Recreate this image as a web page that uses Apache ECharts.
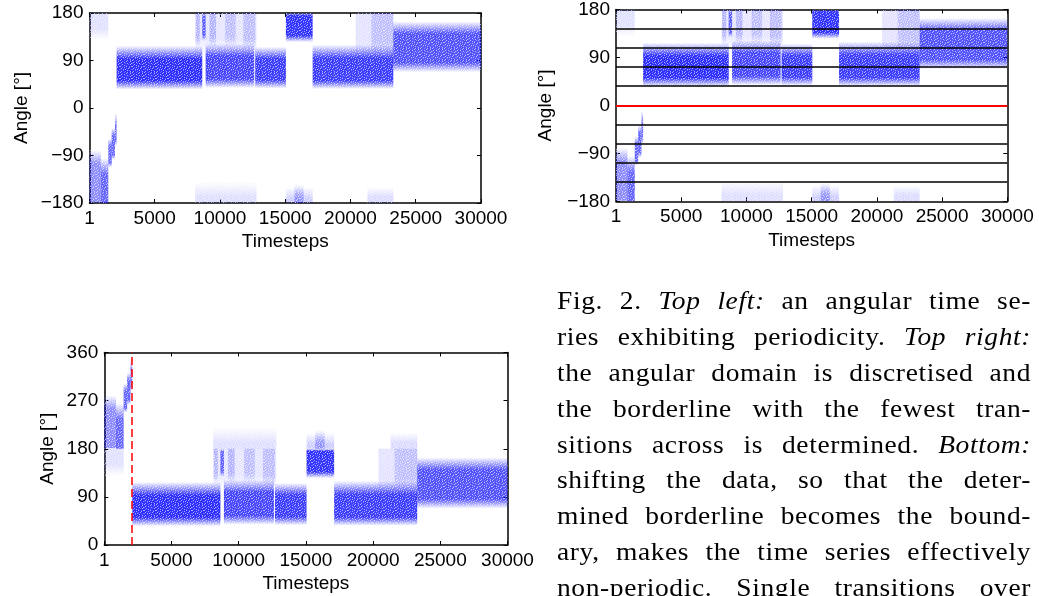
<!DOCTYPE html>
<html>
<head>
<meta charset="utf-8">
<script src="https://cdn.jsdelivr.net/npm/echarts@6/dist/echarts.min.js"></script>
<style>
html,body{margin:0;padding:0;width:1039px;height:596px;overflow:hidden;background:#fff}
#chart{position:absolute;left:0;top:0;width:1039px;height:596px}
#cap{position:absolute;left:557px;top:281.5px;width:474px;font-family:"Liberation Serif","DejaVu Serif",serif;font-size:27.5px;letter-spacing:0.6px;color:#000;transform:scaleY(0.95);transform-origin:0 0}
#cap div{height:37.9px;line-height:37.9px;text-align:justify;text-align-last:justify;white-space:nowrap}
</style>
</head>
<body>
<div id="chart"></div>
<div id="cap">
<div>Fig. 2. <i>Top left:</i> an angular time se-</div>
<div>ries exhibiting periodicity. <i>Top right:</i></div>
<div>the angular domain is discretised and</div>
<div>the borderline with the fewest tran-</div>
<div>sitions across is determined. <i>Bottom:</i></div>
<div>shifting the data, so that the deter-</div>
<div>mined borderline becomes the bound-</div>
<div>ary, makes the time series effectively</div>
<div>non-periodic. Single transitions over</div>
</div>
<script>
// ---------------- data ----------------
const timeMin = 1;
const timeMax = 30000;
const xTicks = [1, 5000, 10000, 15000, 20000, 25000, 30000];
const yTicksWrapped = [-180, -90, 0, 90, 180];
const yTicksShifted = [0, 90, 180, 270, 360];
const binBorders = [-144, -108, -72, -36, 36, 72, 108, 144];
const chosenBorder = 0;
const shiftBoundaryTime = 2080;

// angle bands of the scatter (wrapped domain, degrees)
// [tStart, tEnd, outerLow, coreLow, coreHigh, outerHigh, density]
const denseBands = [
  [1, 870, -180, -178, -105, -80, 0.45],
  [870, 1440, -180, -180, -125, -95, 0.6],
  [1440, 1700, -112, -104, -72, -58, 0.6],
  [1700, 1950, -98, -88, -52, -38, 0.6],
  [1950, 2080, -72, -62, -32, -10, 0.55],
  [2080, 8640, 35, 52, 93, 118, 0.82],
  [8640, 8900, 128, 138, 174, 180, 0.6],
  [8900, 12620, 38, 55, 99, 122, 0.72],
  [12700, 15050, 37, 53, 94, 116, 0.76],
  [15050, 17100, 125, 137, 176, 180, 0.8],
  [17100, 23280, 36, 52, 95, 120, 0.76],
  [23280, 30000, 68, 86, 141, 164, 0.68]
];
const sparseBands = [
  [1, 1440, 130, 150, 180, 180, 0.12],
  [8100, 12800, 105, 130, 180, 180, 0.1],
  [8150, 8450, 115, 135, 180, 180, 0.22],
  [9200, 9700, 115, 135, 180, 180, 0.22],
  [10400, 11200, 115, 135, 180, 180, 0.17],
  [11800, 12700, 110, 130, 180, 180, 0.18],
  [8100, 12800, -180, -180, -168, -140, 0.13],
  [15050, 17100, -180, -180, -172, -150, 0.2],
  [15700, 16400, -180, -180, -165, -145, 0.28],
  [20400, 23280, 95, 120, 180, 180, 0.11],
  [21600, 23280, 100, 125, 180, 180, 0.16],
  [21300, 23280, -180, -180, -168, -150, 0.14]
];

// ---------------- chart ----------------
const wrappedData = sparseBands.concat(denseBands);
const shiftedData = wrappedData.map(b => b[5] <= chosenBorder
  ? [b[0], b[1], b[2] + 360, b[3] + 360, b[4] + 360, b[5] + 360, b[6]]
  : b.slice());

const FONT = '"Liberation Sans", Arial, sans-serif';
const minus = v => String(v).replace('-', '\u2212');

// speckle texture tile (style only): x = strong white dot, o = faint white dot
const speckRows = [
  "x...o..x..o.",
  "..o...x...x.",
  ".x..x....o..",
  "o....o.x...x",
  "..x.....o.x.",
  ".o..x.o.....",
  "x.....x..o.x",
  "..o.x....x..",
  ".x....o.x...",
  "o..x.x.....o",
  "...o...x.o..",
  ".x...o....x."
];
const speckTile = document.createElement('canvas');
speckTile.width = 12; speckTile.height = 12;
(function () {
  const g = speckTile.getContext('2d');
  speckRows.forEach((row, y) => {
    for (let x = 0; x < row.length; x++) {
      if (row[x] === 'x') { g.fillStyle = 'rgba(255,255,255,0.6)'; g.fillRect(x, y, 1, 1); }
      else if (row[x] === 'o') { g.fillStyle = 'rgba(255,255,255,0.3)'; g.fillRect(x, y, 1, 1); }
    }
  });
})();

function renderBand(params, api) {
  const t0 = api.value(0), t1 = api.value(1);
  const lo = api.value(2), cl = api.value(3), ch = api.value(4), hi = api.value(5);
  const a = api.value(6);
  const p0 = api.coord([t0, hi]);
  const p1 = api.coord([t1, lo]);
  const span = hi - lo;
  const c = al => 'rgba(0,0,255,' + al + ')';
  const shape = { x: p0[0], y: p0[1], width: p1[0] - p0[0], height: p1[1] - p0[1] };
  return {
    type: 'group',
    children: [
      {
        type: 'rect', shape: shape,
        style: {
          fill: new echarts.graphic.LinearGradient(0, 0, 0, 1, [
            { offset: 0, color: c(hi === ch ? a : 0) },
            { offset: (hi - ch) / span, color: c(a) },
            { offset: (hi - cl) / span, color: c(a) },
            { offset: 1, color: c(lo === cl ? a : 0) }
          ])
        }
      },
      { type: 'rect', shape: shape, style: { fill: { image: speckTile, repeat: 'repeat' } } }
    ]
  };
}

const grids = [
  { left: 89.5, top: 13, width: 391.5, height: 190 },
  { left: 616, top: 6.7, width: 391.3, height: 194.6 },
  { left: 104.3, top: 352.5, width: 403.2, height: 192.5 }
];
const yRanges = [[-180, 180, yTicksWrapped], [-180, 180, yTicksWrapped], [0, 360, yTicksShifted]];
const yNameGaps = [58, 61, 47];
const xNameGaps = [29, 30, 29];

const axisLine = { show: true, onZero: false, lineStyle: { color: '#000', width: 1.5 } };
const xAxes = [], yAxes = [];
grids.forEach((g, i) => {
  const tick = { show: true, inside: true, length: 4, customValues: xTicks, lineStyle: { color: '#000', width: 1 } };
  xAxes.push({
    type: 'value', gridIndex: i, position: 'bottom', min: timeMin, max: timeMax,
    axisLine, axisTick: tick, splitLine: { show: false },
    axisLabel: { customValues: xTicks, fontSize: 19, fontFamily: FONT, color: '#000', margin: 6, formatter: v => String(v) },
    name: 'Timesteps', nameLocation: 'middle', nameGap: xNameGaps[i],
    nameTextStyle: { fontSize: 19, fontFamily: FONT, color: '#000' }
  });
  xAxes.push({
    type: 'value', gridIndex: i, position: 'top', min: timeMin, max: timeMax,
    axisLine, axisTick: tick, axisLabel: { show: false }, splitLine: { show: false }
  });
  const yr = yRanges[i];
  const ytick = { show: true, inside: true, length: 4, customValues: yr[2], lineStyle: { color: '#000', width: 1 } };
  yAxes.push({
    type: 'value', gridIndex: i, position: 'left', min: yr[0], max: yr[1],
    axisLine, axisTick: ytick, splitLine: { show: false },
    axisLabel: { customValues: yr[2], fontSize: 19, fontFamily: FONT, color: '#000', margin: 6, formatter: minus },
    name: 'Angle [°]', nameLocation: 'middle', nameGap: yNameGaps[i], nameRotate: 90,
    nameTextStyle: { fontSize: 19, fontFamily: FONT, color: '#000' }
  });
  yAxes.push({
    type: 'value', gridIndex: i, position: 'right', min: yr[0], max: yr[1],
    axisLine, axisTick: ytick, axisLabel: { show: false }, splitLine: { show: false }
  });
});

const bandSeries = (i, data, extra) => Object.assign({
  type: 'custom', xAxisIndex: 2 * i, yAxisIndex: 2 * i, clip: true,
  renderItem: renderBand, data: data, silent: true,
  encode: { x: [0, 1], y: [2, 3, 4, 5] }
}, extra || {});

const option = {
  animation: false,
  grid: grids,
  xAxis: xAxes,
  yAxis: yAxes,
  series: [
    bandSeries(0, wrappedData),
    bandSeries(1, wrappedData, {
      markLine: {
        symbol: 'none', silent: true, animation: false, label: { show: false },
        data: binBorders.map(v => ({ yAxis: v, lineStyle: { color: '#000', width: 1.5, type: 'solid' } }))
          .concat([{ yAxis: chosenBorder, lineStyle: { color: '#ff0000', width: 2, type: 'solid' } }])
      }
    }),
    bandSeries(2, shiftedData, {
      markLine: {
        symbol: 'none', silent: true, animation: false, label: { show: false },
        data: [{ xAxis: shiftBoundaryTime, lineStyle: { color: '#ff0000', width: 1.5, type: [8, 4] } }]
      }
    })
  ]
};
const chart = echarts.init(document.getElementById('chart'), null, { renderer: 'canvas' });
chart.setOption(option);
</script>
</body>
</html>
